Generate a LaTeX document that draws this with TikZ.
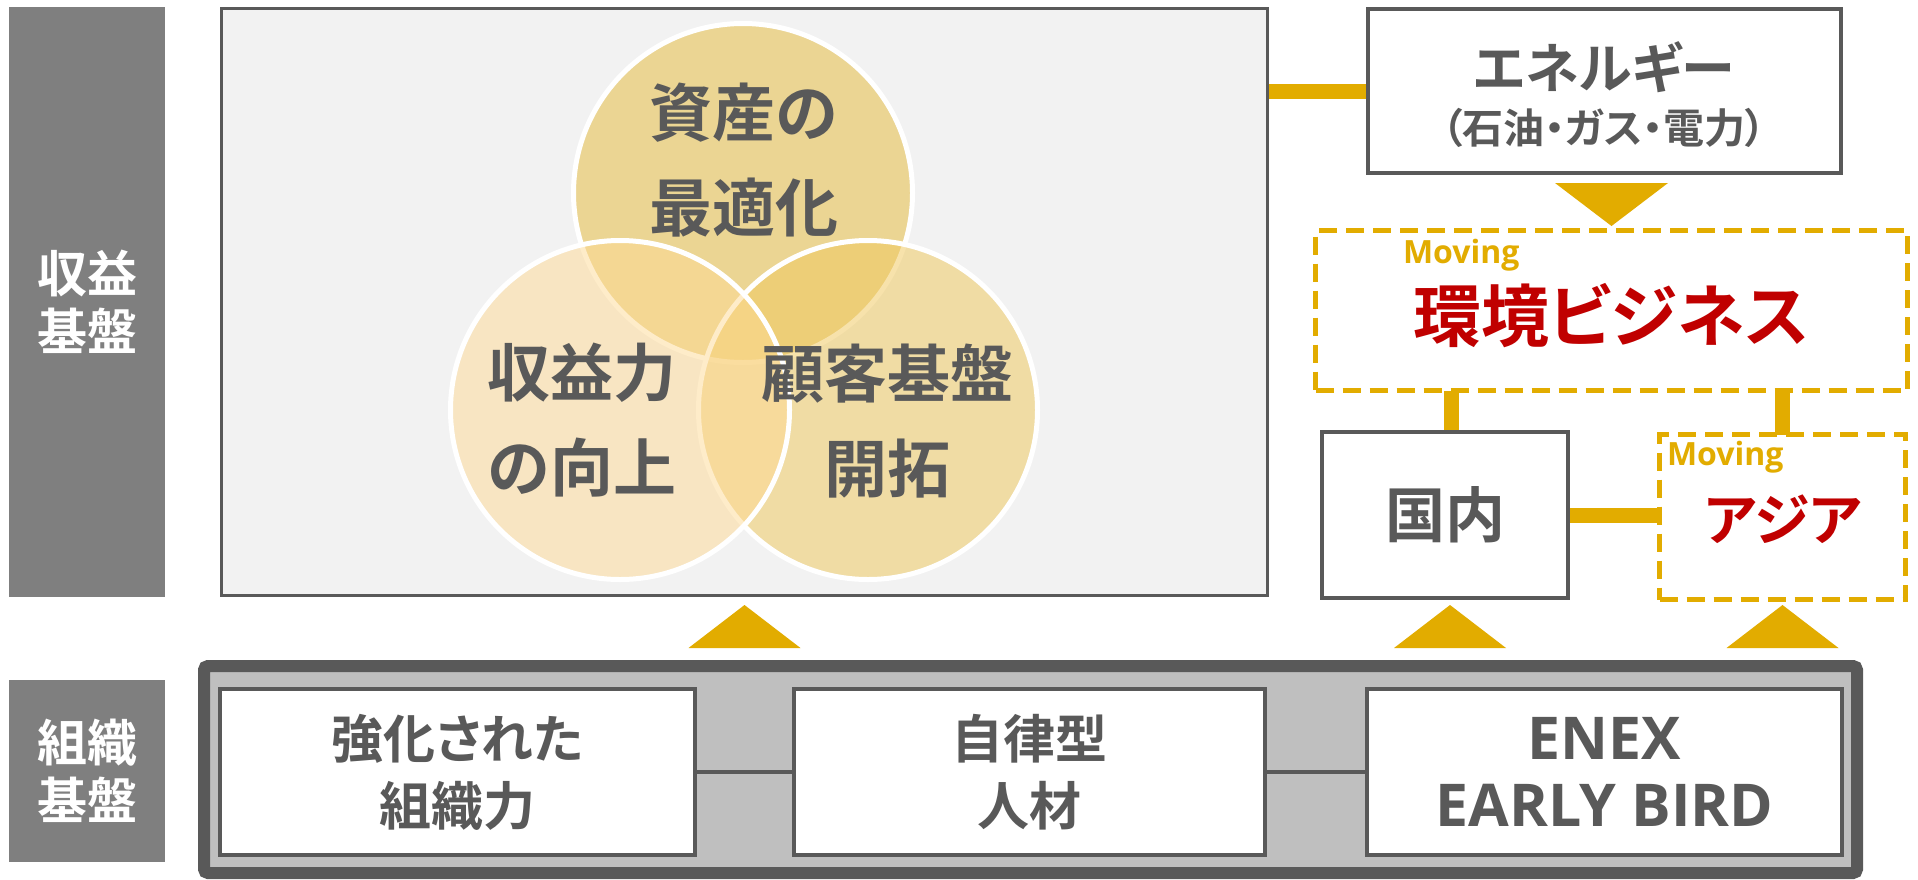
\documentclass[tikz,border=0pt]{standalone}
\usepackage{fontspec}
\newfontfamily\jp{Noto Sans CJK JP}[BoldFont={Noto Sans CJK JP Bold}, RawFeature={+palt}]
\newfontfamily\lat{Open Sans}
\usetikzlibrary{calc}
\definecolor{goldc}{HTML}{E2AC00}
\definecolor{dgray}{HTML}{595959}
\definecolor{labgray}{HTML}{7F7F7F}
\definecolor{framegray}{HTML}{BFBFBF}
\definecolor{mainfill}{HTML}{F2F2F2}
\definecolor{redc}{HTML}{C00000}
\definecolor{circA}{RGB}{235,213,147}
\definecolor{circB}{RGB}{254,218,148}
\definecolor{circC}{RGB}{240,200,94}
\pgfdeclarelayer{bg}
\pgfsetlayers{bg,main}
\begin{document}
\begin{tikzpicture}[x=1pt,y=-1pt,
  every node/.style={inner sep=0pt, outer sep=0pt},
  labbox/.style={fill=labgray, draw=none, minimum width=156pt, text=white,
    font=\jp\bfseries\fontsize{50pt}{58pt}\selectfont, align=center},
  wbox/.style={draw=dgray, line width=4pt, fill=white},
  dbox/.style={draw=goldc, line width=5pt, dash pattern=on 18pt off 9pt, fill=white},
  circ/.style={circle, minimum size=339pt, draw=white, line width=5pt},
  ctxt/.style={text=dgray, font=\jp\bfseries\fontsize{63pt}{95pt}\selectfont, align=center},
  btxt/.style={text=dgray, font=\jp\bfseries\fontsize{52pt}{67pt}\selectfont, align=center},
  mov/.style={text=goldc, font=\lat\bfseries\fontsize{32pt}{32pt}\selectfont},
  redtxt/.style={text=redc, font=\jp\bfseries\fontsize{68pt}{68pt}\selectfont},
  goldline/.style={draw=goldc, line width=15pt},
  darkline/.style={draw=dgray, line width=4pt},
  arrowtri/.style={fill=goldc, draw=none}
]
\useasboundingbox (0,0) rectangle (1918,879);
\begin{pgfonlayer}{bg}
\fill[white] (0,0) rectangle (1918,879);
\end{pgfonlayer}

% left labels
\node[labbox, minimum height=590pt] (lab1) at (87,302) {収益\\基盤};
\node[labbox, minimum height=182pt] (lab2) at (87,771) {組織\\基盤};

% main box with circles
\node[draw=dgray, line width=3pt, fill=mainfill, minimum width=1046pt, minimum height=587pt] (main) at (744.5,302) {};
\node[circ, fill=circA] (cA) at (743,193) {};
\node[circ, fill=circC, fill opacity=0.52] (cC) at (868,410) {};
\node[circ, fill=circB, fill opacity=0.5] (cB) at (620,410) {};
\node[ctxt] (tA) at (744,160.5) {資産の\\最適化};
\node[ctxt] (tB) at (582,420.5) {収益力\\の向上};
\node[ctxt] (tC) at (887,421.5) {顧客基盤\\開拓};

% energy box
\node[wbox, minimum width=473pt, minimum height=164pt] (energy) at (1604.5,91) {};
\node[text=dgray, font=\jp\bfseries\fontsize{54pt}{54pt}\selectfont] (energyt) at (1604,67) {エネルギー};
\node[text=dgray, font=\jp\bfseries\fontsize{41pt}{41pt}\selectfont] (energys) at (1604,128) {（石油・ガス・電力）};

% environment business
\node[dbox, minimum width=592pt, minimum height=160pt] (env) at (1611.5,310.5) {};
\node[mov, anchor=west] (envm) at (1403,255) {Moving};
\node[redtxt] (envt) at (1611,316) {環境ビジネス};

% domestic / asia
\node[wbox, minimum width=246pt, minimum height=166pt, text=dgray,
  font=\jp\bfseries\fontsize{60pt}{60pt}\selectfont] (kok) at (1445,515) {国内};
\node[dbox, minimum width=246pt, minimum height=165pt] (asia) at (1782.5,517) {};
\node[mov, anchor=west] (asiam) at (1667,457) {Moving};
\node[redtxt, font=\jp\bfseries\fontsize{56pt}{56pt}\selectfont] (asiat) at (1783,519) {アジア};

% bottom frame
\node[draw=dgray, line width=12pt, fill=framegray, rounded corners=4pt,
  minimum width=1653pt, minimum height=207pt] (frame) at (1030.5,769.5) {};
\node[wbox, minimum width=475pt, minimum height=166pt, btxt] (b1) at (457.5,772) {強化された\\組織力};
\node[wbox, minimum width=471pt, minimum height=166pt, btxt] (b2) at (1029.5,772) {自律型\\人材};
\node[wbox, minimum width=475pt, minimum height=166pt, btxt,
  font=\lat\bfseries\fontsize{59pt}{67pt}\selectfont] (b3) at (1604.5,772) {ENEX\\EARLY BIRD};
\draw[darkline] (b1.east) -- (b2.west);
\draw[darkline] (b2.east) -- (b3.west);

% gold connectors
\begin{pgfonlayer}{bg}
\draw[goldline] (main.east |- energy.west) -- (energy.west);
\draw[goldline] ([xshift=6pt]kok.north) -- ([xshift=6pt]kok.north |- env.south);
\draw[goldline] (asia.north) -- (asia.north |- env.south);
\draw[goldline] (kok.east) -- (asia.west |- kok.east);
\end{pgfonlayer}

% triangles
\fill[arrowtri] ($(env.north)+(-56.5,-47.5)$) -- ($(env.north)+(56.5,-47.5)$) -- ($(env.north)+(0,-4.5)$) -- cycle;
\fill[arrowtri] ($(main.south|-frame.north)+(-56,-18)$) -- ($(main.south|-frame.north)+(56,-18)$) -- ($(main.south|-frame.north)+(0,-61)$) -- cycle;
\fill[arrowtri] ($(kok.south|-frame.north)+(-51,-18)$) -- ($(kok.south|-frame.north)+(61,-18)$) -- ($(kok.south|-frame.north)+(5,-61)$) -- cycle;
\fill[arrowtri] ($(asia.south|-frame.north)+(-56,-18)$) -- ($(asia.south|-frame.north)+(56,-18)$) -- ($(asia.south|-frame.north)+(0,-61)$) -- cycle;
\end{tikzpicture}
\end{document}
